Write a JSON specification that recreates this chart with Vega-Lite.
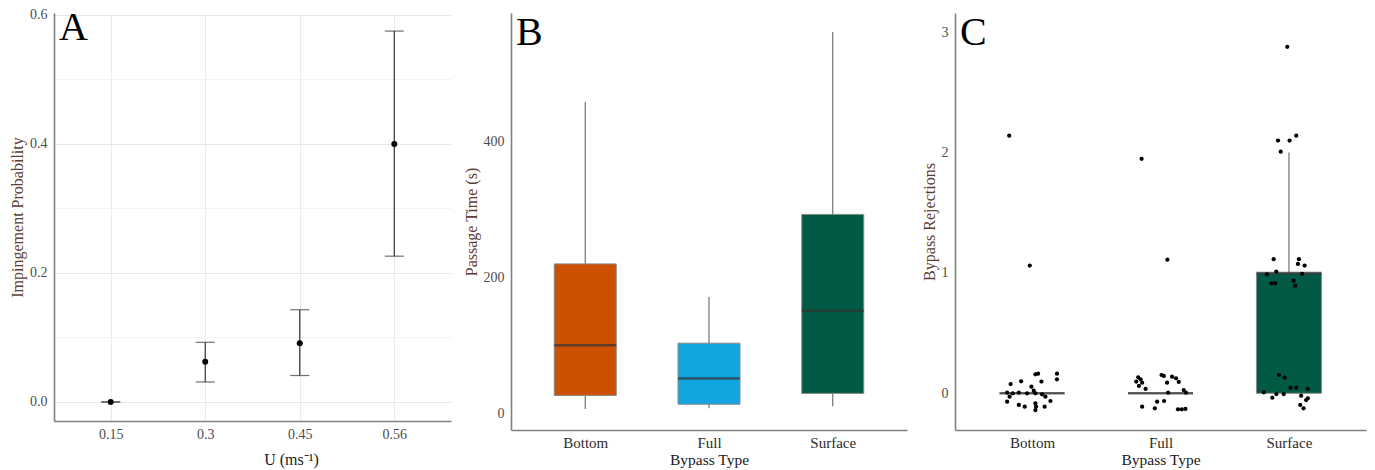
{
  "$schema": "https://vega.github.io/schema/vega-lite/v6.json",
  "background": "white",
  "padding": {"left": 9, "top": 7, "right": 5, "bottom": 2},
  "config": {
    "font": "Liberation Serif",
    "view": {"stroke": null},
    "axis": {"ticks": false, "domainColor": "#808080", "domainWidth": 1.6, "labelFont": "Liberation Serif", "titleFont": "Liberation Serif", "titleFontWeight": "normal", "labelColor": "#4d4d4d", "grid": false},
    "axisX": {"labelFontSize": 15, "labelColor": "#2b2b2b", "titleFontSize": 15.5, "titleColor": "#1a1a1a", "labelPadding": 5, "titlePadding": 2, "labelAngle": 0},
    "axisY": {"labelFontSize": 14, "titleFontSize": 16, "titleColor": "#5b4037", "labelPadding": 7, "titlePadding": 4},
    "title": {"font": "Liberation Serif", "fontSize": 40, "fontWeight": "normal", "color": "#000000", "anchor": "start", "frame": "group", "offset": -40, "baseline": "alphabetic", "dx": 5}
  },
  "datasets": {
    "impingement": [
      {"U": "0.15", "p": 0, "lo": 0, "hi": 0},
      {"U": "0.3", "p": 0.0625, "lo": 0.031, "hi": 0.0925},
      {"U": "0.45", "p": 0.091, "lo": 0.041, "hi": 0.143},
      {"U": "0.56", "p": 0.4, "lo": 0.226, "hi": 0.575}
    ],
    "passage": [
      {"type": "Bottom", "lower": 6, "q1": 26, "median": 100, "q3": 220, "upper": 459},
      {"type": "Full", "lower": 7, "q1": 13, "median": 51, "q3": 103, "upper": 171},
      {"type": "Surface", "lower": 10, "q1": 29, "median": 151, "q3": 293, "upper": 562}
    ],
    "rejbox": [
      {"type": "Bottom", "lower": 0, "q1": 0, "median": 0, "q3": 0, "upper": 0},
      {"type": "Full", "lower": 0, "q1": 0, "median": 0, "q3": 0, "upper": 0},
      {"type": "Surface", "lower": 0, "q1": 0, "median": 1, "q3": 1, "upper": 2}
    ],
    "rejpts": [
      {"type": "Bottom", "pos": 0.822, "rej": 2.141}, {"type": "Bottom", "pos": 0.982, "rej": 1.061},
      {"type": "Bottom", "pos": 1.026, "rej": 0.158}, {"type": "Bottom", "pos": 1.047, "rej": 0.163},
      {"type": "Bottom", "pos": 1.194, "rej": 0.163}, {"type": "Bottom", "pos": 1.194, "rej": 0.116},
      {"type": "Bottom", "pos": 0.833, "rej": 0.077}, {"type": "Bottom", "pos": 0.915, "rej": 0.1},
      {"type": "Bottom", "pos": 1.073, "rej": 0.097}, {"type": "Bottom", "pos": 0.995, "rej": 0.055},
      {"type": "Bottom", "pos": 1.013, "rej": 0.022}, {"type": "Bottom", "pos": 0.806, "rej": 0.005},
      {"type": "Bottom", "pos": 0.85, "rej": 0}, {"type": "Bottom", "pos": 0.897, "rej": 0.005},
      {"type": "Bottom", "pos": 0.961, "rej": 0}, {"type": "Bottom", "pos": 1.026, "rej": 0},
      {"type": "Bottom", "pos": 1.078, "rej": -0.008}, {"type": "Bottom", "pos": 1.104, "rej": -0.028},
      {"type": "Bottom", "pos": 1.143, "rej": -0.064}, {"type": "Bottom", "pos": 0.825, "rej": -0.028},
      {"type": "Bottom", "pos": 0.806, "rej": -0.07}, {"type": "Bottom", "pos": 0.897, "rej": -0.097},
      {"type": "Bottom", "pos": 0.943, "rej": -0.111}, {"type": "Bottom", "pos": 1.026, "rej": -0.083},
      {"type": "Bottom", "pos": 1.031, "rej": -0.111}, {"type": "Bottom", "pos": 1.026, "rej": -0.139},
      {"type": "Bottom", "pos": 1.098, "rej": -0.111},
      {"type": "Full", "pos": 1.853, "rej": 1.948}, {"type": "Full", "pos": 2.054, "rej": 1.11},
      {"type": "Full", "pos": 1.826, "rej": 0.133}, {"type": "Full", "pos": 1.845, "rej": 0.116},
      {"type": "Full", "pos": 1.811, "rej": 0.097}, {"type": "Full", "pos": 1.857, "rej": 0.088},
      {"type": "Full", "pos": 1.832, "rej": 0.061}, {"type": "Full", "pos": 1.884, "rej": 0.036},
      {"type": "Full", "pos": 2.008, "rej": 0.152}, {"type": "Full", "pos": 2.026, "rej": 0.144},
      {"type": "Full", "pos": 2.051, "rej": 0.088}, {"type": "Full", "pos": 2.09, "rej": 0.138},
      {"type": "Full", "pos": 2.121, "rej": 0.125}, {"type": "Full", "pos": 2.142, "rej": 0.094},
      {"type": "Full", "pos": 2.059, "rej": 0.005}, {"type": "Full", "pos": 2.181, "rej": 0.027},
      {"type": "Full", "pos": 2.198, "rej": 0.005}, {"type": "Full", "pos": 1.857, "rej": -0.111},
      {"type": "Full", "pos": 1.956, "rej": -0.125}, {"type": "Full", "pos": 1.974, "rej": -0.07},
      {"type": "Full", "pos": 2.028, "rej": -0.064}, {"type": "Full", "pos": 2.136, "rej": -0.133},
      {"type": "Full", "pos": 2.165, "rej": -0.133}, {"type": "Full", "pos": 2.194, "rej": -0.13},
      {"type": "Surface", "pos": 2.987, "rej": 2.879}, {"type": "Surface", "pos": 2.915, "rej": 2.1},
      {"type": "Surface", "pos": 3.005, "rej": 2.1}, {"type": "Surface", "pos": 3.057, "rej": 2.141},
      {"type": "Surface", "pos": 2.936, "rej": 2.008}, {"type": "Surface", "pos": 2.881, "rej": 1.114},
      {"type": "Surface", "pos": 3.078, "rej": 1.114}, {"type": "Surface", "pos": 3.07, "rej": 1.075},
      {"type": "Surface", "pos": 3.122, "rej": 1.061}, {"type": "Surface", "pos": 2.902, "rej": 1.011},
      {"type": "Surface", "pos": 2.829, "rej": 0.989}, {"type": "Surface", "pos": 3.103, "rej": 0.992},
      {"type": "Surface", "pos": 2.863, "rej": 0.914}, {"type": "Surface", "pos": 2.894, "rej": 0.914},
      {"type": "Surface", "pos": 3.036, "rej": 0.936}, {"type": "Surface", "pos": 3.049, "rej": 0.894},
      {"type": "Surface", "pos": 2.922, "rej": 0.152}, {"type": "Surface", "pos": 2.967, "rej": 0.13},
      {"type": "Surface", "pos": 3.013, "rej": 0.047}, {"type": "Surface", "pos": 3.057, "rej": 0.047},
      {"type": "Surface", "pos": 3.147, "rej": 0.036}, {"type": "Surface", "pos": 2.804, "rej": 0.008},
      {"type": "Surface", "pos": 2.902, "rej": -0.006}, {"type": "Surface", "pos": 2.959, "rej": -0.006},
      {"type": "Surface", "pos": 2.871, "rej": -0.036}, {"type": "Surface", "pos": 3.095, "rej": -0.02},
      {"type": "Surface", "pos": 3.147, "rej": -0.042}, {"type": "Surface", "pos": 3.134, "rej": -0.056},
      {"type": "Surface", "pos": 3.088, "rej": -0.097}, {"type": "Surface", "pos": 3.114, "rej": -0.125}
    ]
  },
  "spacing": 60,
  "bounds": "flush",
  "hconcat": [
    {
      "width": 397,
      "height": 408,
      "title": {"text": "A"},
      "data": {"name": "impingement"},
      "encoding": {
        "x": {"field": "U", "type": "ordinal", "scale": {"type": "point", "padding": 0.6},
          "axis": {"title": "U  (ms⁻¹)", "grid": true, "gridColor": "#ebebeb", "labelFontSize": 14, "labelColor": "#4d4d4d", "labelPadding": 6, "titlePadding": 10, "titleFontSize": 16, "titleX": 237, "titleAnchor": "middle"}}
      },
      "layer": [
        {
          "mark": {"type": "rule", "color": "#333333", "strokeWidth": 1.2},
          "encoding": {
            "y": {"field": "lo", "type": "quantitative", "title": "Impingement Probability",
              "scale": {"domain": [-0.0295, 0.603], "nice": false, "zero": false},
              "axis": {"values": [0, 0.1, 0.2, 0.3, 0.4, 0.5, 0.6], "labelExpr": "round(datum.value*10)%2==0 ? format(datum.value,'.1f') : ''", "grid": true,
                "gridColor": {"condition": {"test": "round(datum.value*10)%2==1", "value": "#f3f3f3"}, "value": "#e6e6e6"}}},
            "y2": {"field": "hi"}
          }
        },
        {
          "mark": {"type": "tick", "color": "#333333", "size": 19, "thickness": 1.2},
          "encoding": {"y": {"field": "lo", "type": "quantitative", "title": "Impingement Probability"}}
        },
        {
          "mark": {"type": "tick", "color": "#333333", "size": 19, "thickness": 1.2},
          "encoding": {"y": {"field": "hi", "type": "quantitative", "title": "Impingement Probability"}}
        },
        {
          "mark": {"type": "circle", "color": "#000000", "size": 36, "opacity": 1},
          "encoding": {"y": {"field": "p", "type": "quantitative", "title": "Impingement Probability"}}
        }
      ]
    },
    {
      "spacing": 48,
      "bounds": "flush",
      "hconcat": [
        {
          "width": 396,
          "height": 417,
          "title": {"text": "B"},
          "data": {"name": "passage"},
          "encoding": {
            "x": {"field": "type", "type": "nominal", "scale": {"type": "point", "padding": 0.6}, "axis": {"title": "Bypass Type"}}
          },
          "layer": [
            {
              "mark": {"type": "rule", "color": "#666666", "strokeWidth": 1.1},
              "encoding": {
                "y": {"field": "lower", "type": "quantitative", "title": "Passage Time (s)",
                  "scale": {"domain": [-25, 590], "nice": false, "zero": false},
                  "axis": {"values": [0, 200, 400]}},
                "y2": {"field": "upper"}
              }
            },
            {
              "mark": {"type": "bar", "size": 62, "stroke": "#8a8a8a", "strokeWidth": 1},
              "encoding": {
                "y": {"field": "q1", "type": "quantitative", "title": "Passage Time (s)"},
                "y2": {"field": "q3"},
                "color": {"field": "type", "type": "nominal", "legend": null,
                  "scale": {"domain": ["Bottom", "Full", "Surface"], "range": ["#CC5000", "#12A5E0", "#005A45"]}}
              }
            },
            {
              "mark": {"type": "tick", "color": "#333333", "size": 62, "thickness": 2.5},
              "encoding": {"y": {"field": "median", "type": "quantitative", "title": "Passage Time (s)"}}
            }
          ]
        },
        {
          "width": 411,
          "height": 417,
          "title": {"text": "C"},
          "layer": [
            {
              "data": {"name": "rejbox"},
              "encoding": {
                "x": {"field": "type", "type": "nominal", "scale": {"type": "point", "padding": 0.6}, "axis": {"title": "Bypass Type", "orient": "bottom"}}
              },
              "layer": [
                {
                  "mark": {"type": "rule", "color": "#666666", "strokeWidth": 1.1},
                  "encoding": {
                    "y": {"field": "lower", "type": "quantitative", "title": "Bypass Rejections",
                      "scale": {"domain": [-0.305, 3.16], "nice": false, "zero": false},
                      "axis": {"values": [0, 1, 2, 3], "format": "d"}},
                    "y2": {"field": "upper"}
                  }
                },
                {
                  "mark": {"type": "bar", "size": 65, "stroke": "#8a8a8a", "strokeWidth": 1},
                  "encoding": {
                    "y": {"field": "q1", "type": "quantitative", "title": "Bypass Rejections"},
                    "y2": {"field": "q3"},
                    "color": {"field": "type", "type": "nominal", "legend": null,
                      "scale": {"domain": ["Bottom", "Full", "Surface"], "range": ["#CC5000", "#12A5E0", "#005A45"]}}
                  }
                },
                {
                  "mark": {"type": "tick", "color": "#333333", "size": 65, "thickness": 2.5},
                  "encoding": {
                    "y": {"field": "median", "type": "quantitative", "title": "Bypass Rejections"}
                  }
                }
              ]
            },
            {
              "data": {"name": "rejpts"},
              "mark": {"type": "circle", "color": "#000000", "size": 18, "opacity": 1},
              "encoding": {
                "x": {"field": "pos", "type": "quantitative", "scale": {"domain": [0.4, 3.6], "nice": false, "zero": false}, "axis": null},
                "y": {"field": "rej", "type": "quantitative", "title": "Bypass Rejections"}
              }
            }
          ],
          "resolve": {"scale": {"x": "independent"}, "axis": {"x": "independent"}}
        }
      ]
    }
  ]
}
